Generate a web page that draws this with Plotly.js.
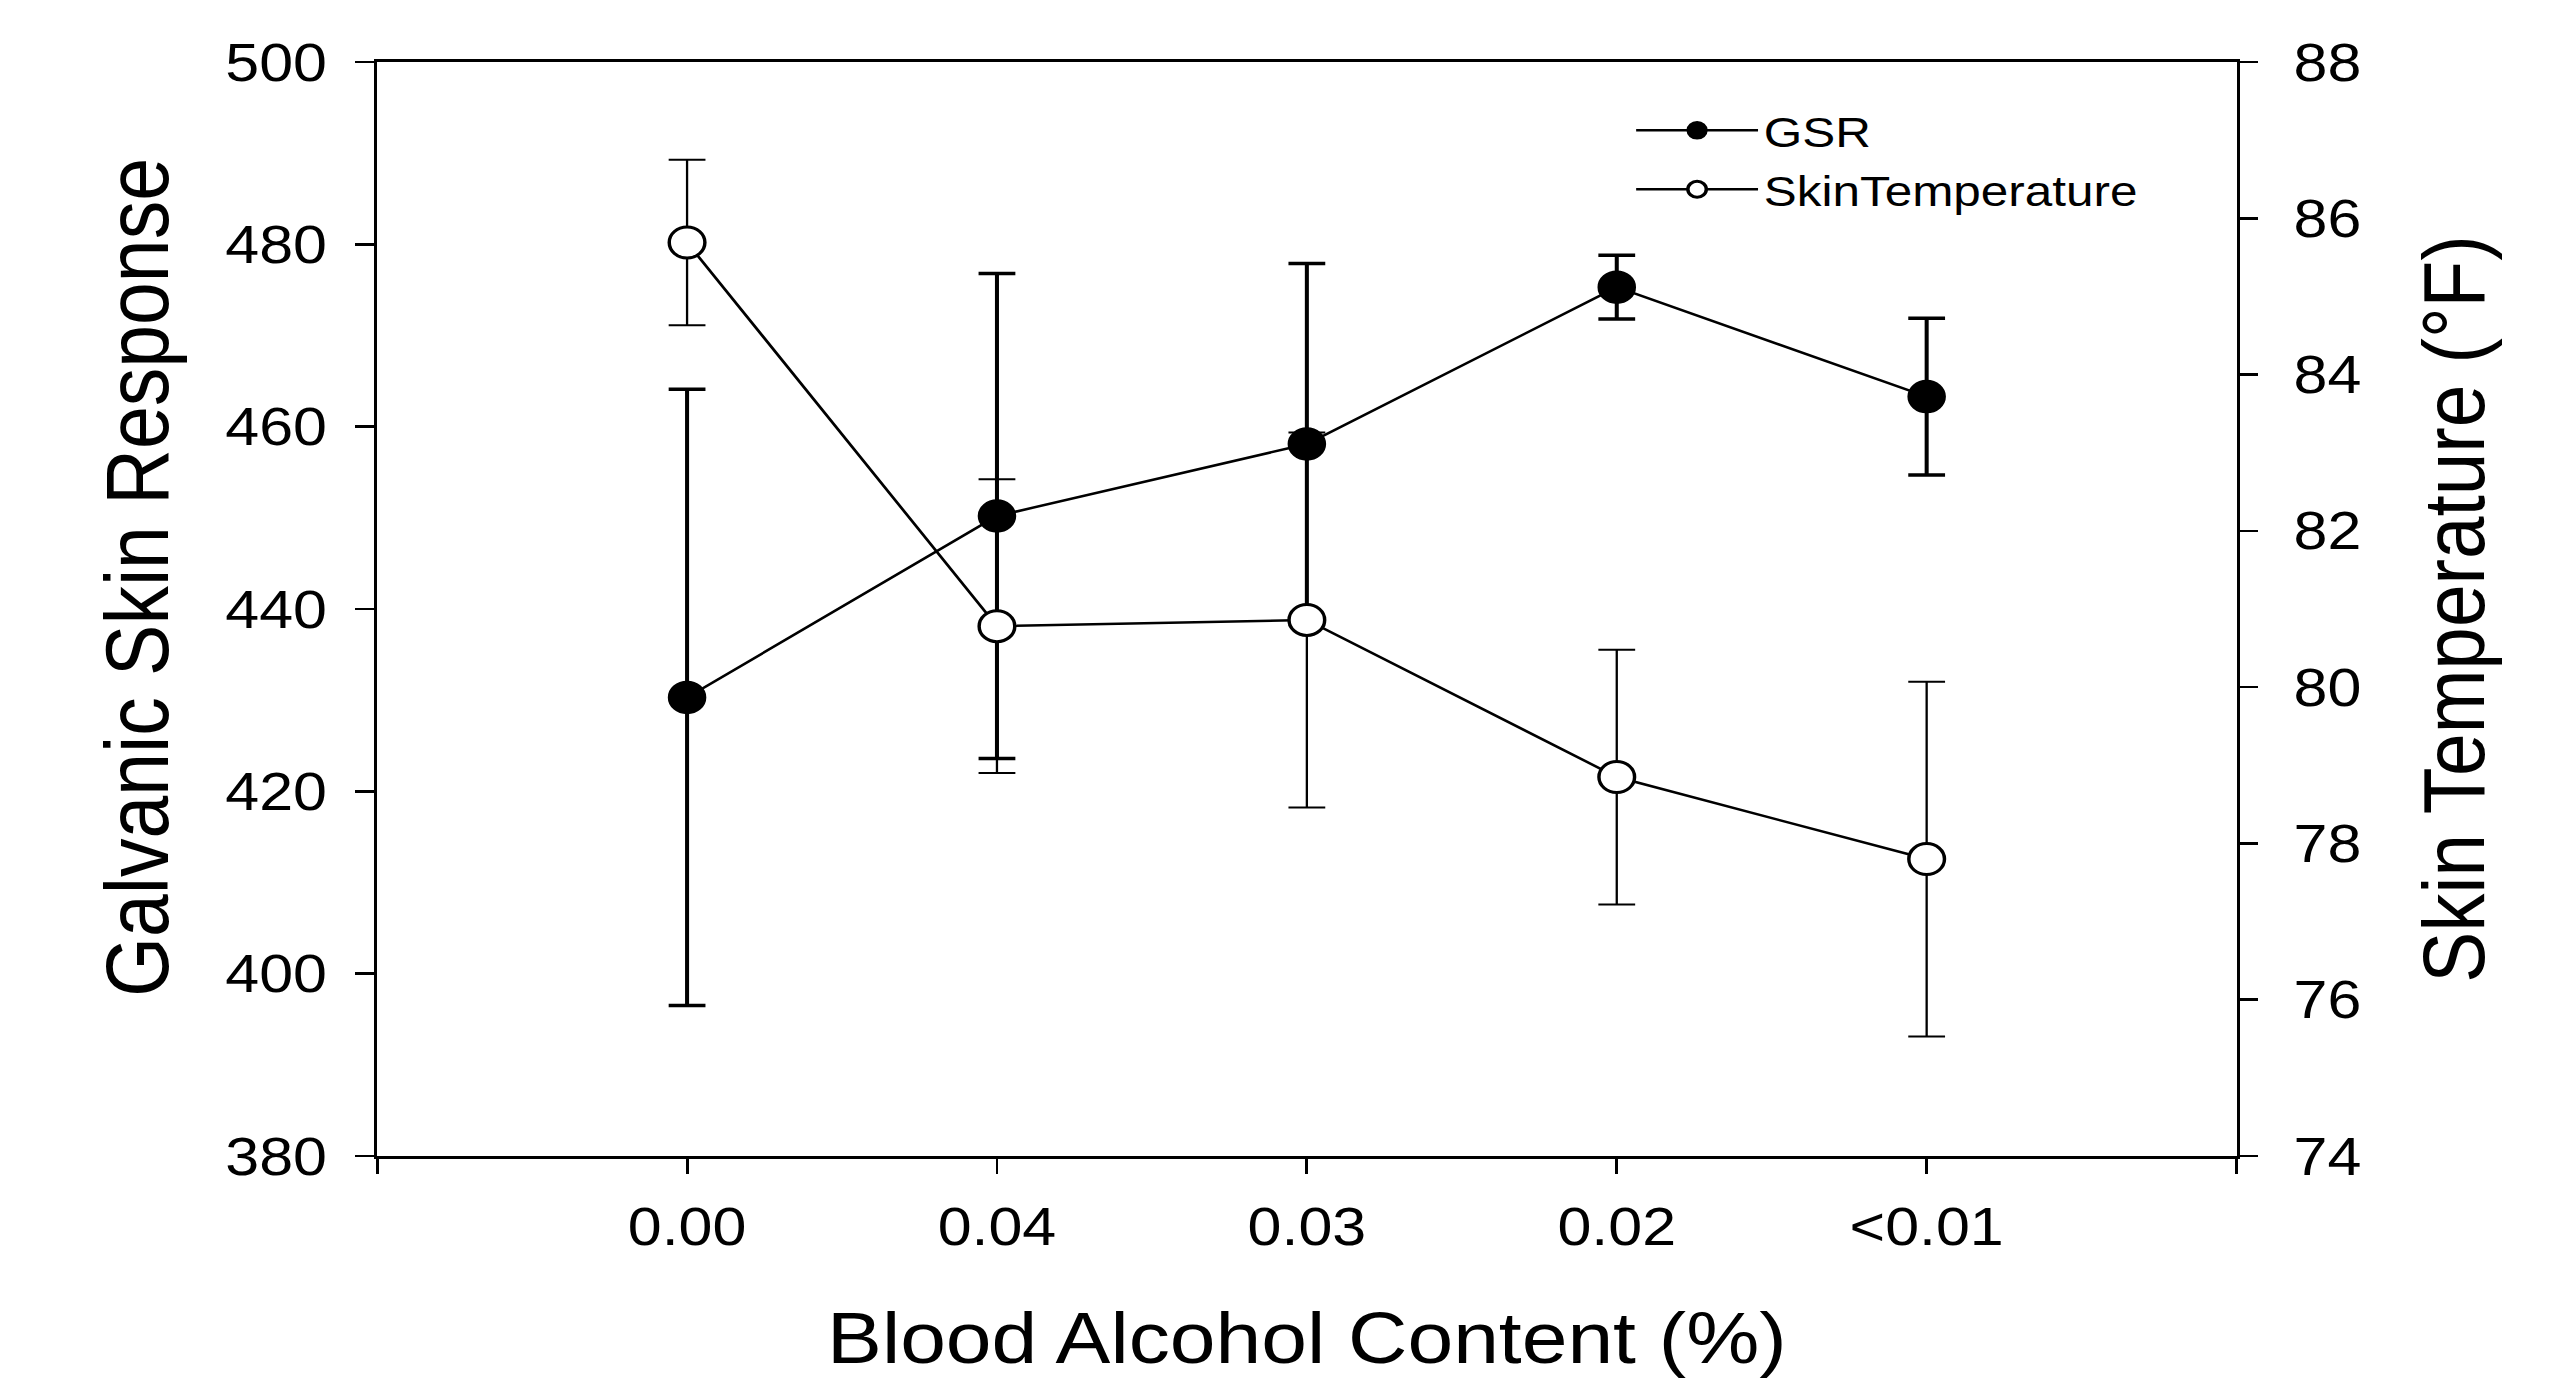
<!DOCTYPE html>
<html><head><meta charset="utf-8">
<script src="https://cdn.plot.ly/plotly-3.0.1.min.js"></script>
<style>
html,body{margin:0;padding:0;background:#fff;overflow:hidden;}
#wrap{width:2570px;height:1385px;overflow:hidden;}
#chart{width:2235px;height:1385px;transform:scaleX(1.1499);transform-origin:0 0;}
</style></head>
<body><div id="wrap"><div id="chart"></div></div>
<script>
// Data
const categories = ['0.00', '0.04', '0.03', '0.02', '<0.01'];
const gsrMean = [430.3, 450.2, 458.1, 475.3, 463.3];
const gsrErr = [33.8, 26.6, 19.8, 3.5, 8.6];
const tempMean = [85.69, 80.78, 80.86, 78.85, 77.80];
const tempErr = [1.06, 1.88, 2.40, 1.63, 2.27];
const yLeftTicks = [380, 400, 420, 440, 460, 480, 500];
const yRightTicks = [74, 76, 78, 80, 82, 84, 86, 88];

const xPos = categories.map((c, i) => i + 1);
const xTickVals = [0].concat(xPos, [categories.length + 1]);
const xTickText = [''].concat(categories, ['']);

const FONT = 'Liberation Sans, Arial, sans-serif';

const gsr = {
  x: xPos, y: gsrMean, name: 'GSR', type: 'scatter', mode: 'lines+markers',
  line: {color: '#000', width: 2.5},
  marker: {symbol: 'circle', size: 31, color: '#000', line: {color: '#000', width: 2.5}},
  error_y: {type: 'data', array: gsrErr, visible: true, color: '#000', thickness: 3.5, width: 16}
};
const temp = {
  x: xPos, y: tempMean, name: 'SkinTemperature', type: 'scatter', mode: 'lines+markers',
  yaxis: 'y2',
  line: {color: '#000', width: 2.5},
  marker: {symbol: 'circle', size: 31, color: '#fff', line: {color: '#000', width: 3}},
  error_y: {type: 'data', array: tempErr, visible: true, color: '#000', thickness: 2, width: 16}
};

const axisCommon = {
  showline: true, linecolor: '#000', linewidth: 3,
  ticks: 'outside', tickcolor: '#000', tickwidth: 2.5,
  showgrid: false, zeroline: false,
  tickfont: {family: FONT, size: 53, color: '#000'}
};

const layout = {
  width: 2235, height: 1385,
  margin: {l: 328, r: 290, t: 62, b: 229, pad: 0},
  paper_bgcolor: '#fff', plot_bgcolor: '#fff',
  font: {family: FONT, color: '#000'},
  showlegend: true,
  legend: {
    x: 0.674, y: 0.969, xanchor: 'left', yanchor: 'top',
    font: {family: FONT, size: 43, color: '#000'},
    bgcolor: 'rgba(0,0,0,0)', itemwidth: 106, tracegroupgap: 0
  },
  xaxis: Object.assign({}, axisCommon, {
    range: [0, categories.length + 1], tickmode: 'array',
    tickvals: xTickVals, ticktext: xTickText,
    ticklen: 15, mirror: true, ticklabelstandoff: 7,
    title: {text: 'Blood Alcohol Content (%)', font: {family: FONT, size: 71.5, color: '#000'}, standoff: 59}
  }),
  yaxis: Object.assign({}, axisCommon, {
    range: [380, 500], tickmode: 'array', tickvals: yLeftTicks,
    ticklen: 16, ticklabelstandoff: 14
  }),
  yaxis2: Object.assign({}, axisCommon, {
    overlaying: 'y', side: 'right',
    range: [74, 88], tickmode: 'array', tickvals: yRightTicks,
    ticklen: 16, ticklabelstandoff: 20,
    title: {text: 'Skin Temperature (°F)', font: {family: FONT, size: 76.5, color: '#000'}, standoff: 55}
  }),
  annotations: [{
    text: 'Galvanic Skin Response', xref: 'paper', yref: 'paper',
    x: -0.1293, y: 0.5293, xanchor: 'center', yanchor: 'middle',
    textangle: -90, showarrow: false,
    font: {family: FONT, size: 77, color: '#000'}
  }]
};

Plotly.newPlot('chart', [gsr, temp], layout, {displayModeBar: false, staticPlot: true});
</script>
</body></html>
